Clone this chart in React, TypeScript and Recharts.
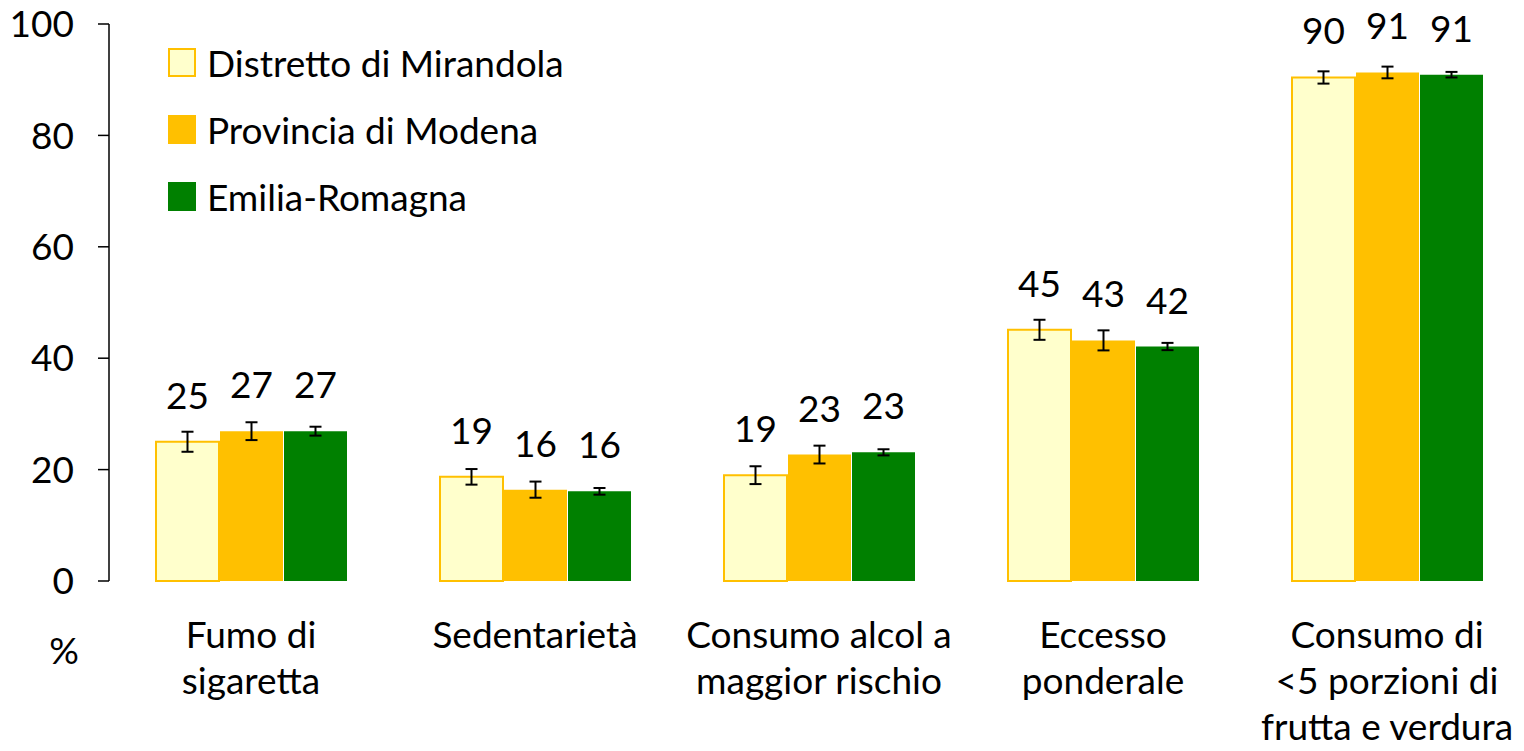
import { BarChart, Bar, XAxis, YAxis, ErrorBar, LabelList } from 'recharts'

const categories = [
  'Fumo di\nsigaretta',
  'Sedentarietà',
  'Consumo alcol a\nmaggior rischio',
  'Eccesso\nponderale',
  'Consumo di\n<5 porzioni di\nfrutta e verdura',
]

const distretto = [25.0, 18.7, 19.0, 45.1, 90.4]
const provincia = [26.9, 16.4, 22.7, 43.2, 91.3]
const emilia = [26.9, 16.1, 23.1, 42.1, 90.9]

// half-width of the 95% CI
const distrettoErr = [1.8, 1.4, 1.6, 1.8, 1.1]
const provinciaErr = [1.6, 1.45, 1.6, 1.8, 1.05]
const emiliaErr = [0.8, 0.6, 0.55, 0.65, 0.5]

const yTicks = [0, 20, 40, 60, 80, 100]

const FONT = 'Lato, "Open Sans", sans-serif'
const FONT_SIZE = 37

const SERIES = [
  { key: 'distretto', err: 'distrettoErr', name: 'Distretto di Mirandola', fill: '#FFFFCC', stroke: '#FFC000' },
  { key: 'provincia', err: 'provinciaErr', name: 'Provincia di Modena', fill: '#FFC000', stroke: undefined },
  { key: 'emilia', err: 'emiliaErr', name: 'Emilia-Romagna', fill: '#008000', stroke: undefined },
]

const data = categories.map((name, i) => ({
  name,
  distretto: distretto[i],
  provincia: provincia[i],
  emilia: emilia[i],
  distrettoErr: distrettoErr[i],
  provinciaErr: provinciaErr[i],
  emiliaErr: emiliaErr[i],
}))

const CategoryTick = ({ x, y, payload }: any) => {
  const lines = String(payload.value).split('\n')
  return (
    <text x={x} y={y} textAnchor="middle" fontFamily={FONT} fontSize={FONT_SIZE} fill="#000">
      {lines.map((line, i) => (
        <tspan key={i} x={x} dy={i === 0 ? 67 : 46}>
          {line}
        </tspan>
      ))}
    </text>
  )
}

const ChartLegend = () => (
  <div style={{ position: 'absolute', left: 168, top: 29, fontFamily: FONT, fontSize: FONT_SIZE, color: '#000' }}>
    {SERIES.map((s) => (
      <div key={s.key} style={{ display: 'flex', alignItems: 'center', height: 67, whiteSpace: 'nowrap' }}>
        <span
          style={{
            display: 'inline-block',
            width: 28,
            height: 29,
            boxSizing: 'border-box',
            background: s.fill,
            border: s.stroke ? `2px solid ${s.stroke}` : 'none',
            marginRight: 11,
          }}
        />
        <span>{s.name}</span>
      </div>
    ))}
  </div>
)

export default function App() {
  return (
    <div style={{ position: 'absolute', left: 0, top: 0, width: 1524, height: 751, overflow: 'hidden', background: '#fff' }}>
      <BarChart
        width={1532}
        height={751}
        data={data}
        margin={{ top: 24, right: 3, bottom: 0, left: 0 }}
        barSize={63}
        barGap={1}
      >
        <XAxis
          dataKey="name"
          axisLine={false}
          tickLine={false}
          tickSize={0}
          tickMargin={0}
          height={170}
          interval={0}
          tick={<CategoryTick />}
        />
        <YAxis
          domain={[0, 100]}
          ticks={yTicks}
          width={109}
          tickSize={11}
          tickMargin={24}
          axisLine={{ stroke: '#000', strokeWidth: 1.5 }}
          tickLine={{ stroke: '#000', strokeWidth: 1.5 }}
          tick={{ fill: '#000', fontFamily: FONT, fontSize: FONT_SIZE }}
        />
        {SERIES.map((s) => (
          <Bar
            key={s.key}
            dataKey={s.key}
            name={s.name}
            fill={s.fill}
            stroke={s.stroke}
            strokeWidth={s.stroke ? 2 : 0}
            isAnimationActive={false}
          >
            <ErrorBar dataKey={s.err} width={6} stroke="#000" strokeWidth={2} direction="y" />
            <LabelList
              dataKey={s.key}
              position="top"
              offset={33}
              formatter={(v: any) => Math.round(Number(v))}
              fill="#000"
              fontFamily={FONT}
              fontSize={FONT_SIZE}
            />
          </Bar>
        ))}
      </BarChart>
      <ChartLegend />
      <div
        style={{
          position: 'absolute',
          left: 48,
          top: 631,
          width: 32,
          textAlign: 'center',
          fontFamily: FONT,
          fontSize: FONT_SIZE,
          lineHeight: '37px',
        }}
      >
        %
      </div>
    </div>
  )
}
